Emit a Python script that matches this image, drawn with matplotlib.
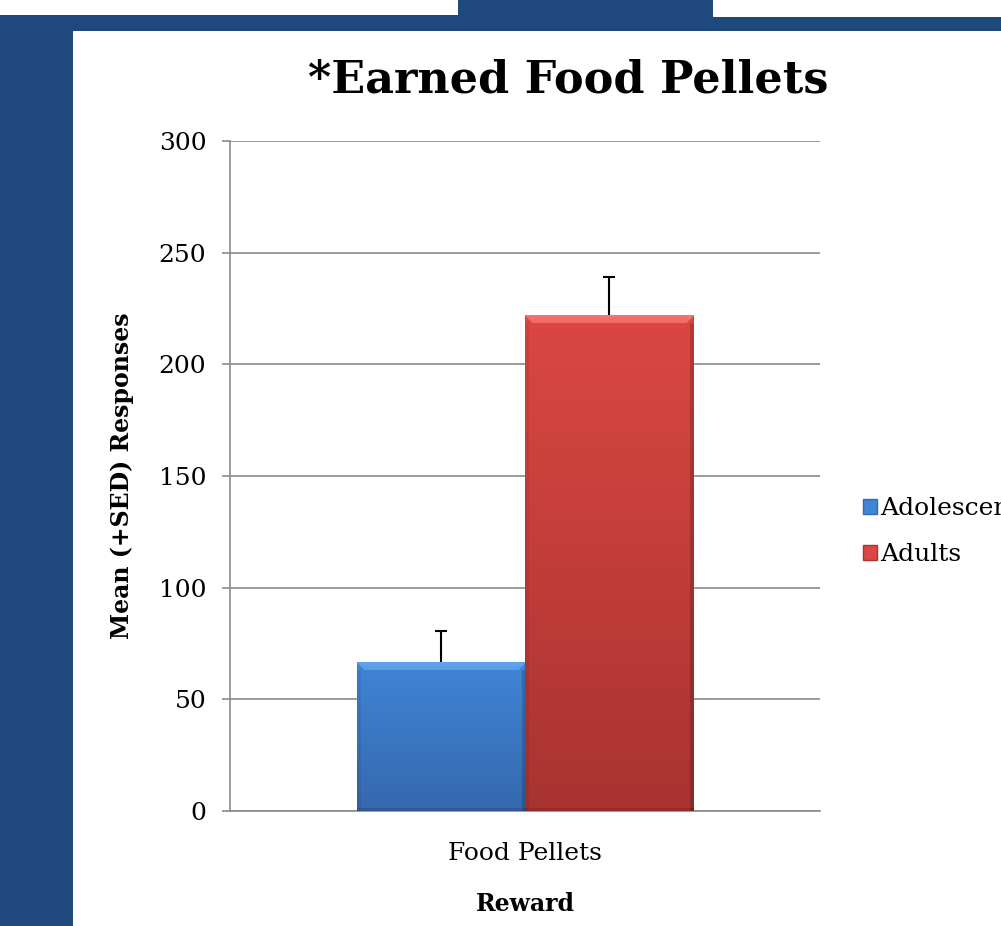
import numpy as np
import matplotlib
matplotlib.use("Agg")
import matplotlib.pyplot as plt
from matplotlib.patches import Rectangle, Patch

categories = ["Food Pellets"]
series = ["Adolescents", "Adults"]
means = [66.5, 222.0]
errors = [14.0, 17.0]
yticks = [0, 50, 100, 150, 200, 250, 300]

W, H = 1001, 926
fig = plt.figure(figsize=(W / 100, H / 100), dpi=100)
fig.patch.set_facecolor("white")
navy = "#1F497D"

def frect(x0, y0, x1, y1):
    fig.patches.append(Rectangle((x0 / W, 1 - y1 / H), (x1 - x0) / W, (y1 - y0) / H,
                                 transform=fig.transFigure, facecolor=navy,
                                 edgecolor="none", zorder=0))

frect(0, 15, 458, 31)
frect(458, 0, 713, 31)
frect(713, 17, 1001, 31)
frect(0, 31, 73, 926)

plt.rcParams["font.family"] = ["DejaVu Serif"]

ax = fig.add_axes([230 / W, 1 - 811 / H, 590 / W, 670 / H])
ax.set_xlim(-0.5, 0.5)
ax.set_ylim(0, 300)

width = 0.285
offsets = [-0.1425, 0.1425]
base_cols = [((0.38, 0.64, 0.92), (0.25, 0.52, 0.84), (0.21, 0.41, 0.68)),
             ((0.97, 0.45, 0.43), (0.86, 0.28, 0.26), (0.66, 0.20, 0.19))]

def bar_image(ctop, cmid, cbot, nh=200, nw=100):
    t = np.linspace(0, 1, nh)[:, None]
    top = np.array(cmid); bot = np.array(cbot)
    img = top[None, None, :] * (1 - t[..., None]) + bot[None, None, :] * t[..., None]
    img = np.repeat(img, nw, axis=1)
    ty = 8
    for r in range(ty):
        img[r, r:nw - r, :] = np.array(ctop) * (1 - 0.03 * r) + np.array(cmid) * 0.03 * r
    sx = 4
    img[ty:, :sx, :] *= 0.93
    img[ty:, -sx:, :] *= 0.82
    img[-3:, :, :] *= 0.88
    return np.clip(img, 0, 1)

for i, (off, m, e) in enumerate(zip(offsets, means, errors)):
    bars = ax.bar(off, m, width=width, color=base_cols[i][1], edgecolor="none",
                  zorder=3, label=series[i])
    b = bars[0]
    img = bar_image(*base_cols[i], nh=max(int(m * 2.23), 10), nw=168)
    im = ax.imshow(img, extent=[off - width / 2, off + width / 2, 0, m],
                   aspect="auto", zorder=4, origin="upper", interpolation="bilinear")
    im.set_clip_path(b)
    eb = ax.errorbar(off, m, yerr=[[0], [e]], fmt="none", ecolor="black",
                     elinewidth=1.5, capsize=4.3, capthick=1.5, zorder=5)
    for cl in eb[1]:
        if np.allclose(cl.get_ydata(), m):
            cl.set_visible(False)

ax.set_yticks(yticks)
ax.set_yticklabels([str(v) for v in yticks], fontsize=18)
ax.set_xticks([0])
ax.set_xticklabels(categories, fontsize=18)
ax.tick_params(axis="x", length=0, pad=22)
ax.tick_params(axis="y", length=6, width=1.2, color="#8a8a8a", pad=11)
ax.yaxis.grid(True, color="#8a8a8a", linewidth=1.2, zorder=1)
ax.set_axisbelow(True)
for s in ["top", "right"]:
    ax.spines[s].set_visible(False)
for s in ["left", "bottom"]:
    ax.spines[s].set_color("#8a8a8a")
    ax.spines[s].set_linewidth(1.2)

ax.set_ylabel("Mean (+SED) Responses", fontsize=17, fontweight="bold", labelpad=18)
ax.set_xlabel("Reward", fontsize=17, fontweight="bold", labelpad=20)
fig.text(568 / W, 1 - 80 / H, "*Earned Food Pellets", fontsize=32, fontweight="bold",
         ha="center", va="center")

handles = [Patch(facecolor=base_cols[0][1], edgecolor=base_cols[0][2]),
           Patch(facecolor=base_cols[1][1], edgecolor=base_cols[1][2])]
fig.legend(handles, series, loc="upper left", bbox_to_anchor=(853 / W, 1 - 487 / H),
           frameon=False, fontsize=18, handlelength=0.55, handleheight=0.55,
           handletextpad=0.15, labelspacing=0.92, borderaxespad=0)

fig.savefig("out.png", dpi=100, facecolor="white")
